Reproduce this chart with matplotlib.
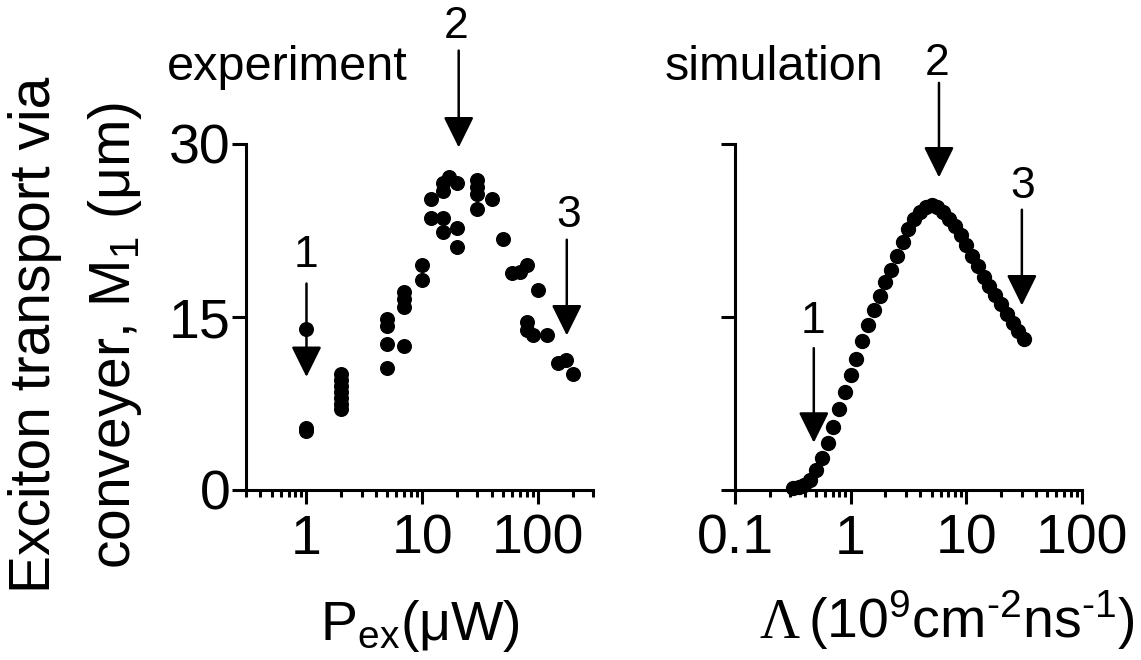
import matplotlib
matplotlib.use("Agg")
import matplotlib.pyplot as plt
from matplotlib.ticker import LogLocator, NullFormatter

plt.rcParams["font.family"] = ["Liberation Sans", "DejaVu Sans"]
plt.rcParams["mathtext.fontset"] = "custom"
plt.rcParams["mathtext.rm"] = "Liberation Sans"
plt.rcParams["mathtext.it"] = "Liberation Sans:italic"
plt.rcParams["mathtext.bf"] = "Liberation Sans:bold"

# experiment: excitation power (uW) and first moment M1 (um)
exp_power = [1, 1, 1,
             2, 2, 2, 2, 2, 2, 2,
             5, 5, 5, 5,
             7, 7, 7, 7,
             10, 10,
             12, 12,
             15, 15, 15, 15,
             17,
             20, 20, 20,
             30, 30, 30, 30,
             40, 50, 60, 70,
             80, 80, 80, 90,
             100, 120, 150, 175, 200]
exp_m1 = [14.0, 5.4, 5.1,
          10.1, 9.5, 9.0, 8.5, 8.0, 7.5, 7.0,
          14.8, 14.2, 12.7, 10.6,
          17.2, 16.6, 15.9, 12.5,
          19.5, 18.2,
          25.2, 23.6,
          26.6, 25.9, 23.6, 22.4,
          27.1,
          26.6, 22.7, 21.1,
          26.9, 26.3, 25.7, 24.4,
          25.2, 21.8, 18.8, 18.9,
          19.5, 14.6, 13.9, 13.4,
          17.3, 13.4, 11.0, 11.3, 10.1]

# simulation: generation rate Lambda (1e9 cm^-2 ns^-1) and M1 (um)
sim_rate = [0.316, 0.355, 0.398, 0.447, 0.501, 0.562, 0.631, 0.708, 0.794, 0.891,
            1.0, 1.12, 1.26, 1.41, 1.58, 1.78, 2.0, 2.24, 2.51, 2.82,
            3.16, 3.55, 3.98, 4.47, 5.01, 5.62, 6.31, 7.08, 7.94, 8.91,
            10.0, 11.2, 12.6, 14.1, 15.8, 17.8, 20.0, 22.4, 25.1, 28.2, 31.6]
sim_m1 = [0.15, 0.25, 0.45, 0.9, 1.7, 2.8, 4.1, 5.5, 7.0, 8.5,
          10.0, 11.4, 12.9, 14.3, 15.6, 16.8, 18.0, 19.1, 20.3, 21.5,
          22.6, 23.5, 24.1, 24.5, 24.7, 24.5, 24.1, 23.5, 22.9, 22.1,
          21.2, 20.3, 19.4, 18.5, 17.7, 16.9, 16.1, 15.3, 14.5, 13.8, 13.1]

y_ticks = [0, 15, 30]
exp_xticks = [1, 10, 100]
exp_xticklabels = ["1", "10", "100"]
sim_xticks = [0.1, 1, 10, 100]
sim_xticklabels = ["0.1", "1", "10", "100"]

W, H = 1141, 660
fig = plt.figure(figsize=(W / 100, H / 100), dpi=100)


def px_box(x0, x1, ytop, ybot):
    return [x0 / W, 1 - ybot / H, (x1 - x0) / W, (ybot - ytop) / H]


def style(ax, xlim, xticks, xlabels, show_ylabels):
    ax.set_xscale("log")
    ax.set_xlim(*xlim)
    ax.set_ylim(0, 30)
    for s in ("top", "right"):
        ax.spines[s].set_visible(False)
    for s in ("left", "bottom"):
        ax.spines[s].set_linewidth(2.2)
    ax.set_xticks(xticks, labels=xlabels)
    ax.xaxis.set_minor_locator(LogLocator(base=10, subs=range(2, 10), numticks=50))
    ax.xaxis.set_minor_formatter(NullFormatter())
    ax.set_yticks(y_ticks, labels=[str(t) for t in y_ticks] if show_ylabels else [])
    ax.tick_params(which="major", direction="out", length=10, width=2.2, labelsize=40)
    ax.tick_params(which="minor", direction="out", length=5, width=2.2)
    ax.tick_params(axis="x", pad=7)
    ax.tick_params(axis="y", pad=1)


def arrow(ax, x, tail, tip):
    ax.annotate("", xy=(x, tip), xytext=(x, tail), annotation_clip=False,
                arrowprops=dict(arrowstyle="-|>,head_length=0.95,head_width=0.47",
                                mutation_scale=20, lw=1.8, color="k",
                                shrinkA=0, shrinkB=0))


def num(ax, x, y, s):
    ax.text(x, y, s, fontsize=32, ha="center", va="baseline", clip_on=False)


ax_exp = fig.add_axes(px_box(246, 593, 144, 490))
ax_sim = fig.add_axes(px_box(735, 1082, 144, 490))

style(ax_exp, (0.3, 300), exp_xticks, exp_xticklabels, True)
style(ax_sim, (0.1, 100), sim_xticks, sim_xticklabels, False)

ax_exp.plot(exp_power, exp_m1, "o", color="k", ms=9.8, clip_on=False)
ax_sim.plot(sim_rate, sim_m1, "o", color="k", ms=10, clip_on=False)

# arrows with the marked points 1, 2, 3
arrow(ax_exp, 1.0, 17.9, 9.8)
num(ax_exp, 0.99, 19.3, "1")
arrow(ax_exp, 20.7, 38.1, 29.7)
num(ax_exp, 19.5, 39.2, "2")
arrow(ax_exp, 178, 21.7, 13.4)
num(ax_exp, 185, 22.8, "3")

arrow(ax_sim, 0.48, 12.3, 4.1)
num(ax_sim, 0.47, 13.6, "1")
arrow(ax_sim, 5.8, 35.3, 27.1)
num(ax_sim, 5.6, 36.0, "2")
arrow(ax_sim, 30.2, 24.3, 16.0)
num(ax_sim, 30.6, 25.3, "3")

# panel titles
fig.text(167 / W, 1 - 80 / H, "experiment", fontsize=35, ha="left", va="baseline")
fig.text(665 / W, 1 - 80 / H, "simulation", fontsize=35, ha="left", va="baseline")

# axis labels
fig.text(320 / W, 1 - 640 / H, r"P$_\mathregular{ex}$(μW)", fontsize=40,
         ha="left", va="baseline")
fig.text(760 / W, 1 - 638 / H, "Λ", fontsize=40, family="Liberation Serif",
         ha="left", va="baseline")
fig.text(808 / W, 1 - 638 / H,
         "(10$^\\mathregular{9}$cm$^\\mathregular{\u20102}$ns$^\\mathregular{\u20101}$)",
         fontsize=40, ha="left", va="baseline")

fig.text(50 / W, 1 - 335 / H, "Exciton transport via", fontsize=41, rotation=90,
         rotation_mode="anchor", ha="center", va="baseline")
fig.text(130 / W, 1 - 335 / H, r"conveyer, M$_\mathregular{1}$ (μm)", fontsize=41,
         rotation=90, rotation_mode="anchor", ha="center", va="baseline")

fig.savefig("out.png", dpi=100)
